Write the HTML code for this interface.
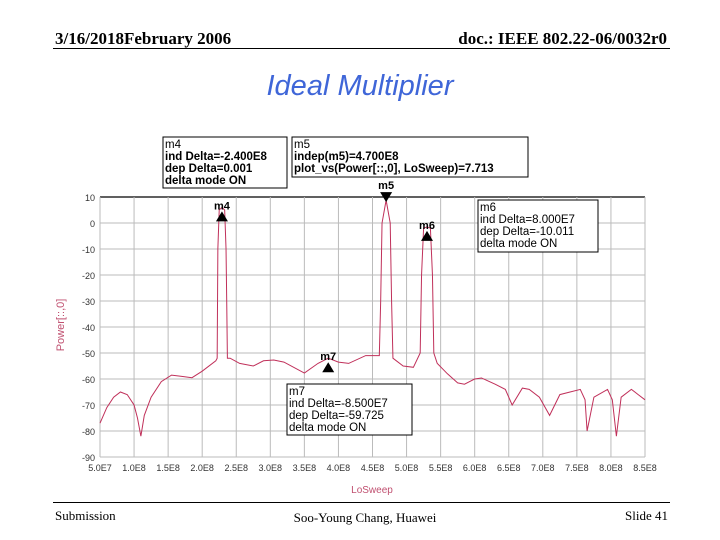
<!DOCTYPE html>
<html><head><meta charset="utf-8"><style>
body{margin:0;background:#fff;width:720px;height:540px;overflow:hidden;position:relative}
.t{position:absolute;white-space:nowrap}
</style></head><body>
<div class="t" style="left:55px;top:29px;font:bold 17px 'Liberation Serif',serif">3/16/2018February 2006</div>
<div class="t" style="right:53px;top:29px;font:bold 17px 'Liberation Serif',serif">doc.: IEEE 802.22-06/0032r0</div>
<div style="position:absolute;left:53px;top:48px;width:617px;height:1px;background:#000"></div>
<div class="t" style="left:0;width:720px;text-align:center;top:70px;font:italic 29px 'Liberation Sans',sans-serif;color:#3f66d8">Ideal Multiplier</div>
<div style="position:absolute;left:53px;top:502px;width:617px;height:1px;background:#000"></div>
<div class="t" style="left:55px;top:508px;font:13px 'Liberation Serif',serif">Submission</div>
<div class="t" style="left:0;width:730px;text-align:center;top:510px;font:13px 'Liberation Serif',serif">Soo-Young Chang, Huawei</div>
<div class="t" style="right:52px;top:508px;font:13px 'Liberation Serif',serif">Slide 41</div>
<svg id="chart" width="720" height="540" style="position:absolute;left:0;top:0" font-family="Liberation Sans, sans-serif"></svg>
<script>
const freqs=[0.5,0.6,0.7,0.8,0.9,1.0,1.05,1.1,1.15,1.25,1.4,1.55,1.7,1.85,2.0,2.2,2.22,2.23,2.25,2.29,2.33,2.35,2.36,2.37,2.41,2.55,2.75,2.9,3.05,3.2,3.5,3.7,3.85,4.0,4.15,4.4,4.6,4.62,4.64,4.70,4.76,4.78,4.80,4.95,5.1,5.2,5.22,5.25,5.30,5.35,5.38,5.40,5.45,5.6,5.75,5.85,6.0,6.1,6.3,6.45,6.55,6.7,6.8,6.95,7.1,7.25,7.4,7.55,7.62,7.65,7.75,7.95,8.02,8.08,8.15,8.3,8.4,8.5];
const power=[-77,-71,-67,-65,-66,-70,-75,-82,-74,-67,-61,-58.5,-59,-59.5,-57,-53,-52,-10,5,6,5,-10,-30,-52,-52,-54,-55,-53,-52.7,-53.5,-57.7,-54,-52,-53.5,-54,-51,-51,-30,0,8.8,0,-30,-52,-55,-55.5,-50,-20,-2,-1.5,-2,-20,-50,-54,-58,-61.5,-62,-60,-59.6,-62,-64,-70,-63.5,-64,-67,-74,-66,-65,-64,-68,-80,-67,-64,-68,-82,-67,-64,-66,-68];
const yTicks=[10,0,-10,-20,-30,-40,-50,-60,-70,-80,-90];
const xTicks=[0.5,1,1.5,2,2.5,3,3.5,4,4.5,5,5.5,6,6.5,7,7.5,8,8.5];
const xLabels=["5.0E7","1.0E8","1.5E8","2.0E8","2.5E8","3.0E8","3.5E8","4.0E8","4.5E8","5.0E8","5.5E8","6.0E8","6.5E8","7.0E8","7.5E8","8.0E8","8.5E8"];
const markers=[{n:"m4",f:2.29,v:6,up:true},{n:"m5",f:4.70,v:8.8,up:false},{n:"m6",f:5.30,v:-1.5,up:true},{n:"m7",f:3.85,v:-52,up:true}];
const X0=100,X1=645,Y0=197,Y1=457;
const xs=f=>X0+(f-0.5)/(8.5-0.5)*(X1-X0);
const ys=v=>Y0+(10-v)/100*(Y1-Y0);
const svg=document.getElementById('chart');const NS='http://www.w3.org/2000/svg';
function mk(t,a,p){const e=document.createElementNS(NS,t);for(const k in a)e.setAttribute(k,a[k]);(p||svg).appendChild(e);return e;}
yTicks.forEach((v,i)=>{
 const g=mk('line',{x1:X0,x2:X1,y1:ys(v),y2:ys(v),stroke:i==0?'#000':'#bbb','stroke-width':i==0?1.2:1});
 
 
 const t=mk('text',{x:X0-5,y:ys(v)+4,'text-anchor':'end','font-size':9,fill:'#333'});t.textContent=v;
 
 
});
xTicks.forEach((f,i)=>{
 const g=mk('line',{x1:xs(f),x2:xs(f),y1:Y0,y2:Y1,stroke:'#bbb'});
 
 
 const t=mk('text',{x:xs(f),y:Y1+14,'text-anchor':'middle','font-size':9,fill:'#333'});t.textContent=xLabels[i];
 
 
});
const pl=mk('polyline',{points:freqs.map((f,i)=>xs(f)+','+ys(power[i])).join(' '),fill:'none',stroke:'#c0305a','stroke-width':1});


markers.forEach(m=>{
 const x=xs(m.f),y=ys(m.v)+(m.up?4:0);
 const p=mk('polygon',{points:m.up?`${x-6},${y+10} ${x+6},${y+10} ${x},${y}`:`${x-6},${y-8} ${x+6},${y-8} ${x},${y+2}`,fill:'#000'});
 
 
 const t=mk('text',{x:x,y:m.up?y-2:y-11,'text-anchor':'middle','font-size':11,'font-weight':'bold'});t.textContent=m.n;
 
 
});
const yt=mk('text',{x:0,y:0,transform:'translate(64,325) rotate(-90)','text-anchor':'middle','font-size':11,fill:'#c05070'});yt.textContent='Power[::,0]';


const xt=mk('text',{x:372,y:493,'text-anchor':'middle','font-size':10,fill:'#c05070'});xt.textContent='LoSweep';


const boxes=[{n:'m4-readout',x:163,y:137,w:124,h:51,l:['m4','ind Delta=-2.400E8','dep Delta=0.001','delta mode ON'],b:[0,1,1,1]},
{n:'m5-readout',x:292,y:137,w:236,h:40,l:['m5','indep(m5)=4.700E8','plot_vs(Power[::,0], LoSweep)=7.713'],b:[0,1,1]},
{n:'m6-readout',x:478,y:200,w:120,h:52,l:['m6','ind Delta=8.000E7','dep Delta=-10.011','delta mode ON'],b:[0,0,0,0]},
{n:'m7-readout',x:287,y:384,w:125,h:51,l:['m7','ind Delta=-8.500E7','dep Delta=-59.725','delta mode ON'],b:[0,0,0,0]}];
boxes.forEach(bx=>{
 const r=mk('rect',{x:bx.x,y:bx.y,width:bx.w,height:bx.h,fill:'#fff',stroke:'#000'});
 
 
 bx.l.forEach((s,i)=>{const t=mk('text',{x:bx.x+2,y:bx.y+11+i*12,'font-size':11.5,'font-weight':bx.b[i]?'bold':'normal'});t.textContent=s;
 
 });
});
</script>
</body></html>
